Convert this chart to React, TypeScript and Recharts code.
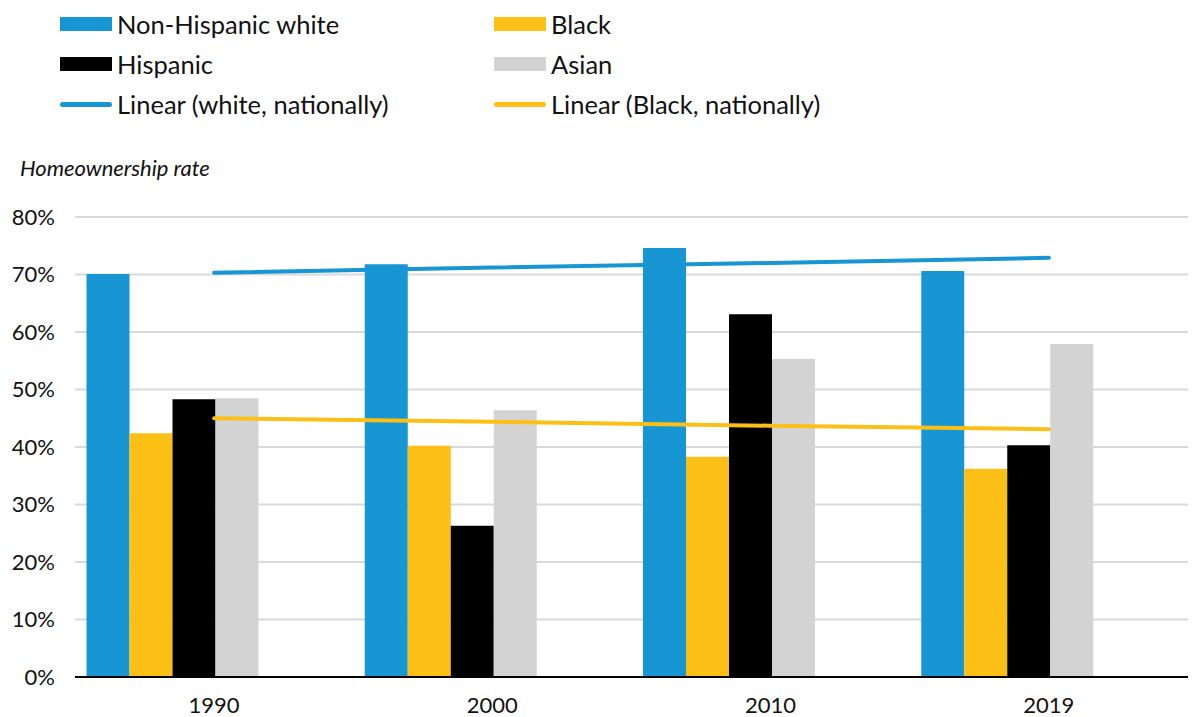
import { ComposedChart, Bar, Line, XAxis, YAxis, CartesianGrid, ReferenceLine } from 'recharts'

const years = ['1990', '2000', '2010', '2019']
const whiteRate = [70.1, 71.8, 74.6, 70.6]
const blackRate = [42.4, 40.2, 38.3, 36.2]
const hispanicRate = [48.3, 26.3, 63.1, 40.3]
const asianRate = [48.5, 46.4, 55.3, 57.9]
// trend lines
const whiteTrend = [70.3, 71.2, 72.0, 72.9]
const blackTrend = [45.0, 44.4, 43.7, 43.1]
const yTicks = [0, 10, 20, 30, 40, 50, 60, 70, 80]

const BLUE = '#1896d3'
const YELLOW = '#fcbf16'
const BLACK = '#000000'
const GREY = '#d3d3d3'

const data = years.map((year, i) => ({
    year,
    white: whiteRate[i],
    black: blackRate[i],
    hispanic: hispanicRate[i],
    asian: asianRate[i],
    whiteTrend: whiteTrend[i],
    blackTrend: blackTrend[i],
}))

const legendItems = [
    { label: 'Non-Hispanic white', color: BLUE, kind: 'box', x: 60, y: 24 },
    { label: 'Black', color: YELLOW, kind: 'box', x: 494, y: 24 },
    { label: 'Hispanic', color: BLACK, kind: 'box', x: 60, y: 64 },
    { label: 'Asian', color: GREY, kind: 'box', x: 494, y: 64 },
    { label: 'Linear (white, nationally)', color: BLUE, kind: 'line', x: 60, y: 104 },
    { label: 'Linear (Black, nationally)', color: YELLOW, kind: 'line', x: 494, y: 104 },
]

const font = 'Lato, "Open Sans", sans-serif'

export default function App() {
    return (
        <div style={{ position: 'absolute', left: 0, top: 0, width: 1200, height: 717, background: '#fff', fontFamily: font }}>
            {legendItems.map((item) => (
                <div
                    key={item.label}
                    style={{
                        position: 'absolute',
                        left: item.x,
                        top: item.y - 15,
                        height: 30,
                        display: 'flex',
                        alignItems: 'center',
                        fontSize: 25.5,
                        color: '#111',
                        whiteSpace: 'nowrap',
                    }}
                >
                    {item.kind === 'box' ? (
                        <span style={{ display: 'inline-block', width: 52, height: 14, background: item.color, marginRight: 5 }} />
                    ) : (
                        <span style={{ display: 'inline-block', width: 52, height: 5, borderRadius: 3, background: item.color, marginRight: 5 }} />
                    )}
                    {item.label}
                </div>
            ))}
            <div style={{ position: 'absolute', left: 20, top: 154, fontSize: 22, fontStyle: 'italic', color: '#111' }}>
                Homeownership rate
            </div>
            <ComposedChart
                width={1200}
                height={717}
                data={data}
                margin={{ top: 217, right: 12, bottom: 0, left: 0 }}
                barCategoryGap={11.5}
                barGap={0}
            >
                <CartesianGrid vertical={false} stroke="#d9d9d9" strokeWidth={2} />
                <XAxis
                    dataKey="year"
                    height={40}
                    axisLine={false}
                    tickLine={false}
                    tickSize={0}
                    tickMargin={20}
                    tick={{ fill: '#111', fontSize: 22, fontFamily: font }}
                />
                <YAxis
                    width={75}
                    domain={[0, 80]}
                    ticks={yTicks}
                    interval={0}
                    axisLine={false}
                    tickLine={false}
                    tickSize={0}
                    tickMargin={20}
                    tickFormatter={(v) => `${v}%`}
                    tick={{ fill: '#111', fontSize: 22, fontFamily: font }}
                />
                <Bar dataKey="white" fill={BLUE} isAnimationActive={false} />
                <Bar dataKey="black" fill={YELLOW} isAnimationActive={false} />
                <Bar dataKey="hispanic" fill={BLACK} isAnimationActive={false} />
                <Bar dataKey="asian" fill={GREY} isAnimationActive={false} />
                {/* hidden national series that only take up room, as in the original */}
                <Bar dataKey="whiteNational" fill="none" legendType="none" isAnimationActive={false} />
                <Bar dataKey="blackNational" fill="none" legendType="none" isAnimationActive={false} />
                <ReferenceLine y={0} stroke="#000" strokeWidth={2} />
                <Line
                    dataKey="whiteTrend"
                    stroke={BLUE}
                    strokeWidth={4}
                    strokeLinecap="round"
                    dot={false}
                    isAnimationActive={false}
                />
                <Line
                    dataKey="blackTrend"
                    stroke={YELLOW}
                    strokeWidth={4}
                    strokeLinecap="round"
                    dot={false}
                    isAnimationActive={false}
                />
            </ComposedChart>
        </div>
    )
}
